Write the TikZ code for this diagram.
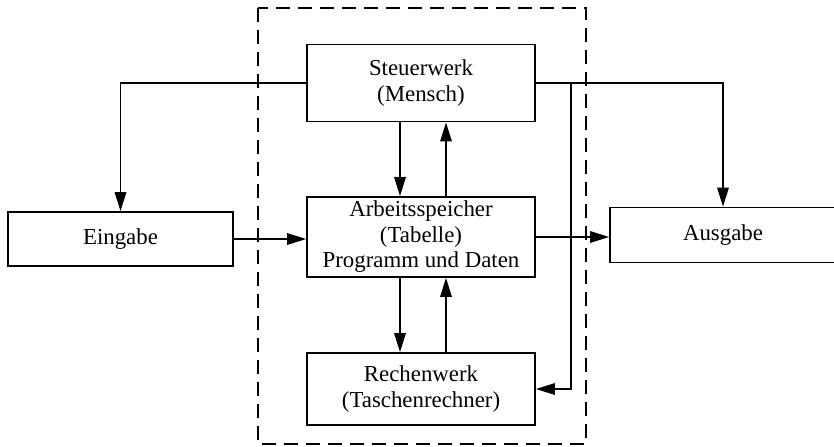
\documentclass[tikz,border=0pt]{standalone}
\usepackage{fontspec}
\setmainfont{Liberation Serif}
\usetikzlibrary{arrows.meta,calc,positioning}

\begin{document}
\begin{tikzpicture}[x=0.02cm,y=-0.02cm,
  box/.style={draw,line width=1pt,align=center,inner sep=0pt,font=\fontsize{13}{14.5}\selectfont},
  arr/.style={line width=0.8pt,-{Triangle[length=3.8mm,width=2.3mm]}}]
  \useasboundingbox (0,0) rectangle (834,446);
  \draw[line width=0.8pt,dash pattern=on 0.28cm off 0.16cm] (258,8) rectangle (586,444);
  \node[box,minimum width=4.56cm,minimum height=1.54cm] (steuer) at (421,83) {Steuerwerk\\(Mensch)};
  \node[box,minimum width=4.56cm,minimum height=1.6cm] (arbeit) at (421,237) {Arbeitsspeicher\\(Tabelle)\\Programm und Daten};
  \node[box,minimum width=4.56cm,minimum height=1.44cm] (rechen) at (421,389) {Rechenwerk\\(Taschenrechner)};
  \node[box,minimum width=4.5cm,minimum height=1.08cm] (eingabe) at (120.5,239) {Eingabe};
  \node[box,minimum width=4.52cm,minimum height=1.1cm] (ausgabe) at (723,235) {Ausgabe};
  \coordinate (abzw) at (571,83);
  \draw[arr] (steuer.west) -| (eingabe.north);
  \draw[arr] (steuer.east) -| (ausgabe.north);
  \draw[arr] (abzw) |- (rechen.east);
  \draw[arr] (eingabe.east) -- (eingabe.east -| arbeit.west);
  \draw[arr] (arbeit.east) -- (arbeit.east -| ausgabe.west);
  \draw[arr] ([xshift=-0.42cm]steuer.south) -- ([xshift=-0.42cm]arbeit.north);
  \draw[arr] ([xshift=0.5cm]arbeit.north) -- ([xshift=0.5cm]steuer.south);
  \draw[arr] ([xshift=-0.42cm]arbeit.south) -- ([xshift=-0.42cm]rechen.north);
  \draw[arr] ([xshift=0.5cm]rechen.north) -- ([xshift=0.5cm]arbeit.south);
\end{tikzpicture}
\end{document}
